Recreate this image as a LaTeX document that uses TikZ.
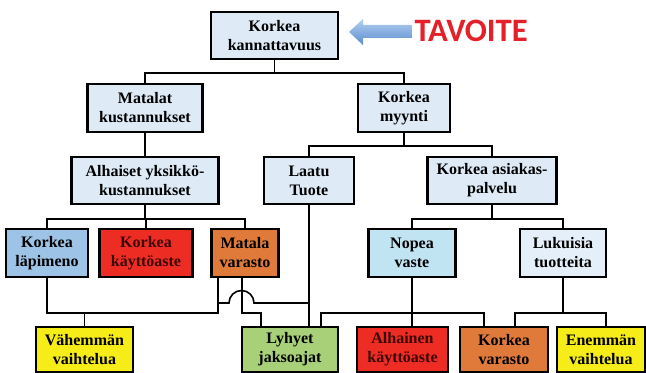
\documentclass[tikz,border=0pt]{standalone}
\usepackage{fontspec}
\setmainfont{Liberation Serif}
\newfontfamily\goalfont{Carlito}
\usetikzlibrary{calc}
\tikzset{every picture/.style={line width=0.75pt}}

\definecolor{boxblue}{RGB}{222,235,247}
\definecolor{boxpale}{RGB}{229,239,249}
\definecolor{lapiblue}{RGB}{157,195,230}
\definecolor{boxcyan}{RGB}{192,228,241}
\definecolor{boxred}{RGB}{237,45,36}
\definecolor{boxorange}{RGB}{224,122,58}
\definecolor{boxyellow}{RGB}{245,236,24}
\definecolor{boxgreen}{RGB}{168,208,120}
\definecolor{redink}{RGB}{60,5,5}
\definecolor{goalred}{RGB}{228,32,40}
\definecolor{arrowtop}{RGB}{178,208,242}
\definecolor{arrowbot}{RGB}{92,140,205}

\tikzset{
  box/.style={draw=black, line width=1.8pt, align=center, inner sep=0pt, font=\fontsize{12}{14.25}\selectfont\bfseries},
  sz/.style 2 args={minimum width=#1*0.75pt, minimum height=#2*0.75pt},
  link/.style={draw=black, line width=1.2pt},
}

\begin{document}
\begin{tikzpicture}[x=0.75pt,y=0.75pt,yscale=-1,xscale=1]
\useasboundingbox (0,0) rectangle (646,373);

%Shape: Rect [id:goal] 
\node[box, fill=boxblue, sz={127}{47}] (goal) at (274.5,35.5) {Korkea\\kannattavuus};
%Shape: Rect [id:level2] 
\node[box, fill=boxblue, sz={115}{48}] (costs) at (145,108) {Matalat\\kustannukset};
\node[box, fill=boxblue, sz={92}{48}] (sales) at (404,108) {Korkea\\myynti};
%Shape: Rect [id:level3] 
\node[box, fill=boxblue, sz={147}{47}] (unitcost) at (145,180.5) {Alhaiset yksikkö-\\kustannukset};
\node[box, fill=boxblue, sz={90}{47}] (quality) at (309,180.5) {Laatu\\Tuote};
\node[box, fill=boxblue, sz={129}{47}] (service) at (492,180.5) {Korkea asiakas-\\palvelu};
%Shape: Rect [id:level4] 
\node[box, fill=lapiblue, sz={82}{48}] (throughput) at (47,253) {Korkea\\läpimeno};
\node[box, fill=boxred, text=redink, sz={93}{48}] (utilization) at (146,253) {Korkea\\käyttöaste};
\node[box, fill=boxorange, sz={67}{48}] (lowstock) at (245,253) {Matala\\varasto};
\node[box, fill=boxcyan, sz={87}{48}] (response) at (412,253) {Nopea\\vaste};
\node[box, fill=boxpale, sz={86}{48}] (variety) at (563,253) {Lukuisia\\tuotteita};
%Shape: Rect [id:level5] 
\node[box, fill=boxyellow, sz={97}{45}] (lessvar) at (84.5,349.5) {Vähemmän\\vaihtelua};
\node[box, fill=boxgreen, sz={96}{45}] (cycle) at (290,349.5) {Lyhyet\\jaksoajat};
\node[box, fill=boxred, text=redink, sz={91}{45}] (lowutil) at (402.5,349.5) {Alhainen\\käyttöaste};
\node[box, fill=boxorange, sz={88}{45}] (highstock) at (504,349.5) {Korkea\\varasto};
\node[box, fill=boxyellow, sz={88}{45}] (morevar) at (601,349.5) {Enemmän\\vaihtelua};

%Straight Lines [id:tree] 
\draw[link] (goal.south) -- ++(0,13) -| (costs.north);
\draw[link] (goal.south) -- ++(0,13) -| (sales.north);
\draw[link] (costs.south) -- (unitcost.north);
\draw[link] (sales.south) -- ++(0,13) -| (quality.north);
\draw[link] (sales.south) -- ++(0,13) -| (service.north);
\foreach \n in {throughput,utilization,lowstock}
  \draw[link] (unitcost.south) -- ++(0,14) -| (\n.north);
\foreach \n in {response,variety}
  \draw[link] (service.south) -- ++(0,14) -| (\n.north);

%Straight Lines [id:bottom] 
\coordinate (lowbus) at (0,313);
\coordinate (hopbus) at (0,303);
\coordinate (ls1) at ($(lowstock.south)+(-27,0)$);
\coordinate (ls2) at ($(lowstock.south)+(-3,0)$);
\coordinate (cy1) at ($(cycle.north)+(-29,0)$);
\coordinate (cy3) at ($(cycle.north)+(31,0)$);
\coordinate (hs1) at ($(highstock.north)+(-20,0)$);
\coordinate (hs2) at ($(highstock.north)+(11,0)$);
\coordinate (mv1) at ($(morevar.north)+(5,0)$);
\draw[link] (throughput.south) |- (ls1 |- lowbus) -- (ls1);
\draw[link] (lessvar.north) -- (lessvar.north |- lowbus);
\draw[link] (ls1 |- hopbus) -- ++(11,0) arc[start angle=180, end angle=360, radius=12.5] -- (quality.south |- hopbus);
\draw[link] (ls2) |- (cy1 |- lowbus) -- (cy1);
\draw[link] (quality.south) -- (quality.south |- cycle.north);
\draw[link] (cy3) |- (hs1 |- lowbus) -- (hs1);
\draw[link] (response.south) -- (response.south |- lowutil.north);
\draw[link] (hs2) |- (mv1 |- lowbus) -- (mv1);
\draw[link] (variety.south) -- (variety.south |- lowbus);

%Shape: Left Arrow [id:goalarrow] 
\shade[top color=arrowtop, bottom color=arrowbot] (412,25) -- (363,25) -- (363,19) -- (349,32) -- (363,45) -- (363,38) -- (412,38) -- cycle;
% Text Node
\node[anchor=base west, inner sep=0pt, text=goalred, font=\goalfont\bfseries\fontsize{24.5}{24.5}\selectfont] (target) at (414,42) {TAVOITE};

\end{tikzpicture}
\end{document}
